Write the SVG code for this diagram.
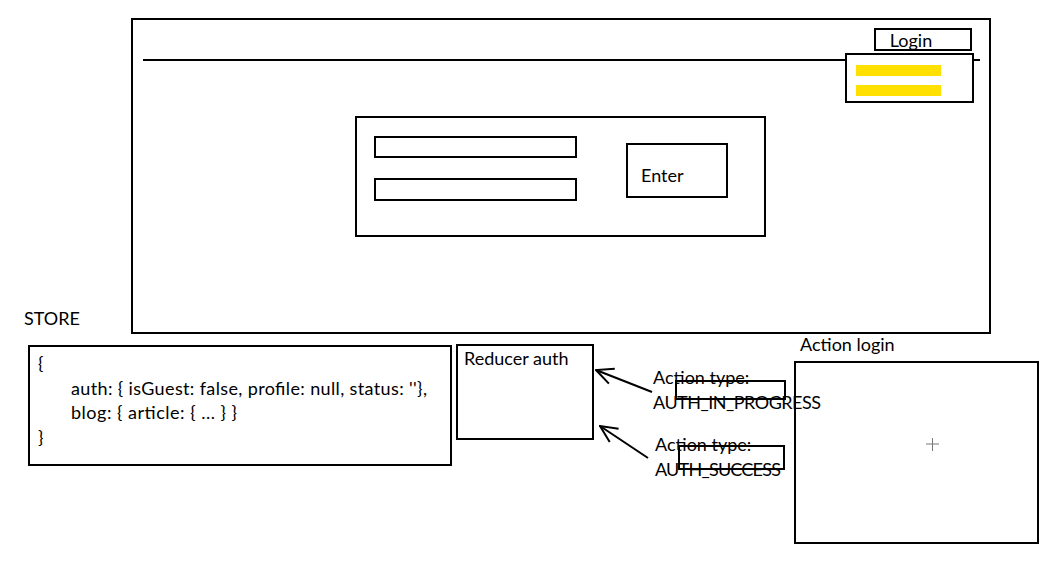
<svg xmlns="http://www.w3.org/2000/svg" width="1064" height="569" viewBox="0 0 1064 569">
<style>
.box{fill:none;stroke:#000;stroke-width:2}
.t{font-family:Lato,"Liberation Sans",sans-serif;font-size:18px;fill:#000}
.bar{fill:#FFE000}
.conn{stroke:#000;stroke-width:2;fill:none}
</style>
<defs>
<marker id="arr" viewBox="0 0 20 20" refX="19" refY="10" markerWidth="20" markerHeight="20" markerUnits="userSpaceOnUse" orient="auto">
<path d="M2,2 L19,10 L2,18" fill="none" stroke="#000" stroke-width="2"/>
</marker>
</defs>
<rect width="1064" height="569" fill="#fff"/>
<g id="page">
<rect class="box" x="132" y="19" width="858" height="314"/>
<line x1="143" y1="60" x2="980" y2="60" stroke="#000" stroke-width="2"/>
</g>
<g id="login-btn">
<rect class="box" x="875" y="29" width="96" height="21" fill="#fff"/>
<text class="t" x="911" y="47" text-anchor="middle">Login</text>
</g>
<g id="dropdown">
<rect x="846" y="54" width="127" height="48" fill="#fff" stroke="#000" stroke-width="2"/>
<rect class="bar" x="856" y="65" width="85" height="11"/>
<rect class="bar" x="856" y="85" width="85" height="11"/>
</g>
<g id="form">
<rect class="box" x="356" y="117" width="409" height="119"/>
<rect class="box" x="375" y="137" width="201" height="20"/>
<rect class="box" x="375" y="179" width="201" height="21"/>
</g>
<g id="enter">
<rect class="box" x="627" y="144" width="100" height="53"/>
<text class="t" x="641" y="182">Enter</text>
</g>
<g id="store">
<text class="t" x="24" y="325">STORE</text>
<rect class="box" x="29" y="346" width="422" height="119"/>
<text class="t" x="38" y="370">{</text>
<text class="t" x="71" y="395" textLength="356">auth: { isGuest: false, profile: null, status: ''},</text>
<text class="t" x="71" y="419" textLength="166">blog: { article: { ... } }</text>
<text class="t" x="38" y="444">}</text>
</g>
<g id="reducer">
<rect class="box" x="457" y="345" width="136" height="94"/>
<text class="t" x="464" y="365">Reducer auth</text>
</g>
<g id="action-progress">
<rect class="box" x="676" y="381" width="109" height="18"/>
<text class="t" x="653" y="384">Action type:</text>
<text class="t" x="653" y="409" textLength="168">AUTH_IN_PROGRESS</text>
</g>
<g id="action-success">
<rect class="box" x="679" y="446" width="105" height="23"/>
<text class="t" x="655" y="451">Action type:</text>
<text class="t" x="655" y="476" textLength="126">AUTH_SUCCESS</text>
</g>
<g id="action-login">
<text class="t" x="800" y="351">Action login</text>
<rect class="box" x="795" y="362" width="243" height="181"/>
<g stroke="#777" stroke-width="1">
<line x1="926" y1="444" x2="939" y2="444"/>
<line x1="932.5" y1="438" x2="932.5" y2="451"/>
</g>
</g>
<g id="connectors">
<line class="conn" x1="652" y1="392" x2="596" y2="370" marker-end="url(#arr)"/>
<line class="conn" x1="648" y1="458" x2="600" y2="426" marker-end="url(#arr)"/>
</g>
</svg>
